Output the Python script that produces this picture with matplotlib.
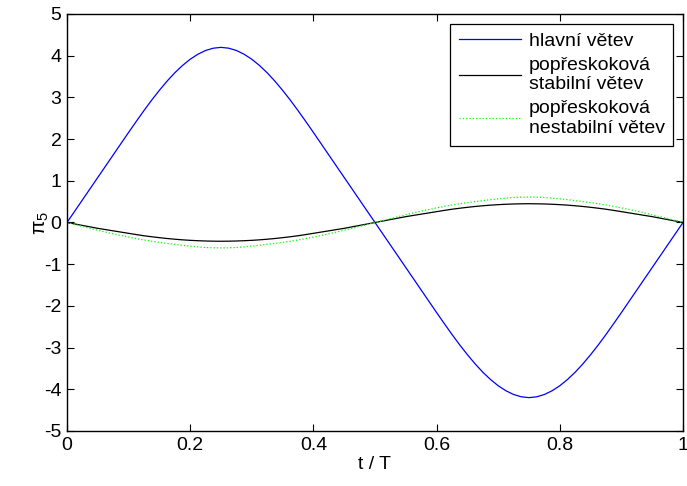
import matplotlib
matplotlib.use('Agg')
import matplotlib.pyplot as plt
import numpy as np

plt.rcParams['font.family'] = ['Liberation Sans', 'DejaVu Sans']
plt.rcParams['mathtext.fontset'] = 'custom'
plt.rcParams['mathtext.rm'] = 'Liberation Sans'
plt.rcParams['mathtext.it'] = 'Liberation Sans:italic'
plt.rcParams['axes.unicode_minus'] = False

# time samples over one period
t = np.linspace(0, 1, 81)

# first quarter of each branch, t = 0 .. 0.25 in steps of 0.0125
hlavni_q = [0, 0.27, 0.54, 0.81, 1.08, 1.35, 1.62, 1.89, 2.16, 2.425, 2.685,
            2.935, 3.17, 3.39, 3.59, 3.765, 3.915, 4.035, 4.125, 4.18, 4.2]
stab_q = [0, -0.035, -0.07, -0.105, -0.14, -0.17, -0.2, -0.23, -0.26, -0.29, -0.318,
          -0.342, -0.364, -0.384, -0.401, -0.416, -0.428, -0.437, -0.444, -0.448, -0.45]
nestab_q = [0, -0.047, -0.094, -0.14, -0.186, -0.23, -0.272, -0.312, -0.35, -0.386, -0.42,
            -0.45, -0.477, -0.502, -0.523, -0.549, -0.566, -0.585, -0.6, -0.607, -0.61]

def full_period(q):
    half = list(q) + list(q[-2::-1])
    return np.array(half + [-v for v in half[1:]])

hlavni = full_period(hlavni_q)
stabilni = full_period(stab_q)
nestabilni = full_period(nestab_q)

xticks = [0, 0.2, 0.4, 0.6, 0.8, 1]
xticklabels = ['0', '0.2', '0.4', '0.6', '0.8', '1']
yticks = list(range(-5, 6))

fig = plt.figure(figsize=(6.87, 4.86), dpi=100)
ax = fig.add_axes([0.0975, 0.1132, 0.8967, 0.858])

ax.plot(t, hlavni, color=(0, 0, 1), lw=0.9, label='hlavní větev')
ax.plot(t, stabilni, color='k', lw=0.9, label='popřeskoková\nstabilní větev')
ax.plot(t, nestabilni, color=(0, 1, 0), lw=0.9, ls=':', label='popřeskoková\nnestabilní větev')

ax.set_xlim(0, 1)
ax.set_ylim(-5, 5)
ax.set_xticks(xticks)
ax.set_xticklabels(xticklabels)
ax.set_yticks(yticks)
ax.tick_params(direction='in', length=5, width=0.8, top=True, right=True,
               labelsize=14, pad=4)
for s in ax.spines.values():
    s.set_linewidth(1.0)

ax.set_xlabel('t / T', fontsize=14, labelpad=2)
ax.set_ylabel(r'$\mathregular{\pi_5}$', fontsize=15)
ax.yaxis.set_label_coords(-0.026, 0.5)

leg = ax.legend(loc='upper right', fontsize=14, frameon=True, fancybox=False,
                edgecolor='k', framealpha=1, handlelength=3.2, handletextpad=0.4,
                borderaxespad=0.5, borderpad=0.45, labelspacing=0.35)
leg.get_frame().set_linewidth(0.9)

fig.savefig('out.png', dpi=100)
